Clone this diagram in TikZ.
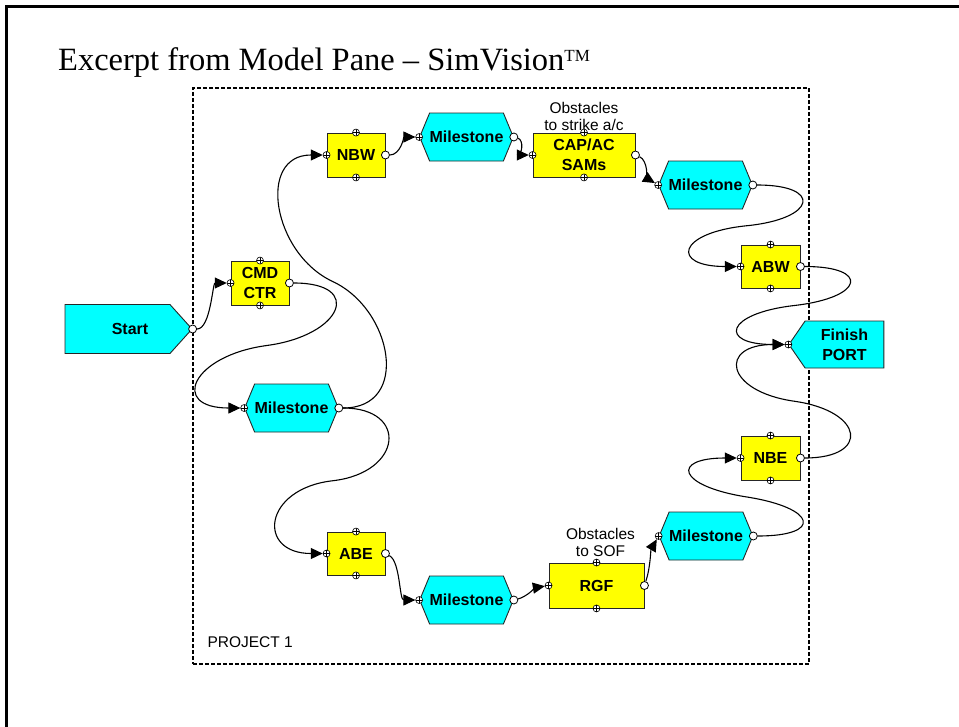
\documentclass[tikz,border=0pt]{standalone}
\usepackage{fontspec}
\setmainfont{Liberation Serif}
\setsansfont{Liberation Sans}
\usetikzlibrary{shapes.symbols,arrows.meta,positioning,calc}

\definecolor{msfill}{RGB}{0,255,255}
\definecolor{taskfill}{RGB}{255,255,0}

\tikzset{
  lbl/.style={font=\sffamily\bfseries\fontsize{16}{20}\selectfont},
  task/.style={lbl, rectangle, draw=black!85, line width=0.9, fill=taskfill, inner sep=0pt, minimum width=58, minimum height=44, align=center},
  milestone/.style={lbl, signal, signal to=east and west, signal pointer angle=135, draw=black!85, line width=0.9, fill=msfill, inner sep=0pt, minimum width=87, minimum height=48},
  startnode/.style={lbl, signal, signal to=east, signal pointer angle=96, draw=black!85, line width=0.9, fill=msfill, inner sep=0pt, minimum width=127, minimum height=49},
  finishnode/.style={lbl, signal, signal to=west, signal pointer angle=111, draw=black!85, line width=0.9, fill=msfill, inner sep=0pt, minimum width=95, minimum height=47, align=center},
  inport/.style={circle, draw, fill=white, inner sep=0pt, minimum size=7, line width=0.6,
    path picture={\draw[line width=0.6] (path picture bounding box.north) -- (path picture bounding box.south) (path picture bounding box.west) -- (path picture bounding box.east);}},
  outport/.style={circle, draw, fill=white, inner sep=0pt, minimum size=8, line width=0.8},
  link/.style={line width=1.1, -{Triangle[length=12pt,width=11pt]}},
  note/.style={align=center, inner sep=0pt, font=\sffamily\fontsize{15.5}{17}\selectfont}
}

\begin{document}
\begin{tikzpicture}[x=1pt,y=1pt,yscale=-1,xscale=1]
\useasboundingbox (0,0) rectangle (959,726);

% slide frame and title
\draw[line width=3] (6,730) -- (6,6) -- (965,6);
\node[anchor=base west, inner sep=0pt, font=\fontsize{32.5}{38}\selectfont] (title) at (58,70) {Excerpt from Model Pane – SimVision\raisebox{9pt}{\fontsize{17}{17}\selectfont TM}};

% project pane
\node[draw, line width=1.3, dash pattern=on 4pt off 2pt, inner sep=0pt, minimum width=616, minimum height=576] (pane) at (501,376) {};
\node[note, anchor=base west] (projlabel) at ([shift={(15,-17)}]pane.south west) {PROJECT 1};

% start / finish
\node[startnode] (start) at (117.5,329) {\hspace*{25pt}Start};
\node[finishnode] (finish) at (844.5,344.5) {Finish\\PORT};

% tasks
\node[task] (cmd) at (260,283) {CMD\\CTR};
\node[task] (nbw) at (356,155) {NBW};
\node[task, minimum width=102] (cap) at (584,155) {CAP/AC\\SAMs};
\node[task, minimum width=59, minimum height=43] (abw) at (770.5,266.5) {ABW};
\node[task, minimum width=59] (nbe) at (770.5,458) {NBE};
\node[task, minimum width=95, minimum height=45] (rgf) at (596.5,585.5) {RGF};
\node[task, minimum height=43] (abe) at (356,553.5) {ABE};

% milestones
\node[milestone] (ms1) at (291.5,408) {Milestone};
\node[milestone] (ms2) at (466.5,137) {Milestone};
\node[milestone] (ms3) at (705.5,185) {Milestone};
\node[milestone] (ms4) at (706,536) {Milestone};
\node[milestone] (ms5) at (466.5,600) {Milestone};

% notes
\node[note, above=2pt of cap] (capnote) {Obstacles\\to strike a/c};
\node[note, above=6pt of rgf, xshift=4] (rgfnote) {Obstacles\\to SOF};

% ports
\foreach \b in {cmd,nbw,cap,abw,nbe,rgf,abe}{
  \node[inport] (\b-in) at (\b.west) {};
  \node[outport] (\b-out) at (\b.east) {};
  \node[inport] (\b-top) at (\b.north) {};
  \node[inport] (\b-bot) at (\b.south) {};
}
\foreach \m in {ms1,ms2,ms3,ms4,ms5}{
  \node[inport] (\m-in) at (\m.west) {};
  \node[outport] (\m-out) at (\m.east) {};
}
\node[outport] (start-out) at (start.east) {};
\node[inport] (finish-in) at (finish.west) {};

% links
\draw[link] (start-out) .. controls +(18,0) and +(-18,0) .. (cmd-in);
\draw[link] (cmd-out) .. controls +(75,0) and +(75,-10) .. ($(cmd-out)!0.5!(ms1-in)$)
  .. controls +(-75,10) and +(-75,0) .. (ms1-in);
\draw[link] (ms1-out) .. controls +(72,0) and +(60,28) .. ($(ms1-out)!0.5!(nbw-in)$)
  .. controls +(-60,-28) and +(-70,0) .. (nbw-in);
\draw[link] (ms1-out) .. controls +(70,0) and +(70,-8) .. ($(ms1-out)!0.5!(abe-in)$)
  .. controls +(-70,8) and +(-70,0) .. (abe-in);
\draw[link] (nbw-out) .. controls +(15,0) and +(-15,0) .. (ms2-in);
\draw[link] (ms2-out) .. controls +(10,3) and +(-10,0) .. (cap-in);
\draw[link] (cap-out) .. controls +(12,5) and +(-10,-6) .. (ms3-in);
\draw[link] (ms3-out) .. controls +(70,0) and +(70,-7) .. ($(ms3-out)!0.5!(abw-in)$)
  .. controls +(-70,7) and +(-70,0) .. (abw-in);
\draw[link] (abw-out) .. controls +(70,0) and +(70,-8) .. ($(abw-out)!0.5!(finish-in)$)
  .. controls +(-70,8) and +(-70,0) .. (finish-in);
\draw[link] (nbe-out) .. controls +(70,0) and +(70,10) .. ($(nbe-out)!0.5!(finish-in)$)
  .. controls +(-70,-10) and +(-70,0) .. (finish-in);
\draw[link] (ms4-out) .. controls +(70,0) and +(70,11) .. ($(ms4-out)!0.5!(nbe-in)$)
  .. controls +(-70,-11) and +(-70,0) .. (nbe-in);
\draw[link] (rgf-out) .. controls +(6,-18) and +(-8,14) .. (ms4-in);
\draw[link] (ms5-out) .. controls +(12,-3) and +(-12,2) .. (rgf-in);
\draw[link] (abe-out) .. controls +(15,8) and +(-20,0) .. (ms5-in);

\end{tikzpicture}
\end{document}
